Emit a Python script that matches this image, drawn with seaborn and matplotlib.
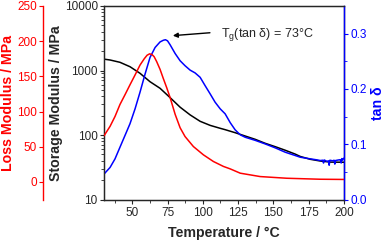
import numpy as np
import pandas as pd
import matplotlib
matplotlib.use("Agg")
import matplotlib.pyplot as plt
import seaborn as sns

# Storage modulus (MPa)
temp_storage = [30, 34.3, 41.3, 48.4, 55.5, 62.6, 69.7, 76.8, 83.9, 91, 98.1, 105.2, 112.3, 115.8,
                119.4, 122.9, 130, 137.1, 144.2, 151.3, 158.4, 165.5, 169, 176.1, 183.2, 190.3, 200]
storage = [1500, 1455, 1340, 1145, 905, 670, 530, 380, 270, 205, 163, 141, 127, 121,
           114.5, 108.6, 96.4, 85.7, 74.3, 65.9, 58, 50.5, 46.5, 42, 39.5, 38, 37.8]

# Loss modulus (MPa)
temp_loss = [30, 34.3, 37.8, 41.3, 44.9, 48.4, 52, 55.5, 58.5, 60.5, 62.3, 64, 65.5, 67.3, 69.7, 72,
             74.4, 76.8, 80.4, 83.9, 87.4, 93.3, 100.4, 107.5, 114.6, 119.4, 126.5, 140.6, 159.5, 183, 200]
loss = [65.5, 79, 93, 110, 124, 138, 152, 166, 175, 180, 182, 181, 178, 171, 160, 147,
        134, 120, 96, 77, 64.5, 50.3, 38.5, 29, 22, 18.5, 12.4, 7.6, 5.2, 3.8, 3.5]

# tan delta
temp_tan = [30, 34.3, 37.8, 41.3, 44.9, 48.4, 52, 55.5, 59.1, 62.6, 66.2, 69.7, 72, 73.5, 75, 76.8,
            80.4, 83.9, 87.4, 91, 94.5, 98.1, 101.6, 105.2, 108.7, 112.3, 115.8, 119.4, 122.9,
            126.5, 130, 137.1, 144.2, 151.3, 158.4, 165.5, 169, 176.1, 180, 183.2, 185, 185.5, 186,
            187.9, 189, 189.5, 190, 192, 193, 193.5, 194, 196, 197.4, 198, 198.5, 199, 200]
tan_delta = [0.046, 0.058, 0.0735, 0.0945, 0.116, 0.137, 0.164, 0.194, 0.227, 0.257, 0.275, 0.285, 0.288,
             0.289, 0.287, 0.28, 0.264, 0.251, 0.242, 0.234, 0.229, 0.221, 0.206, 0.191, 0.176, 0.164,
             0.155, 0.139, 0.126, 0.117, 0.1126, 0.107, 0.1005, 0.0934, 0.0855, 0.0795, 0.0765,
             0.0735, 0.072, 0.0705, 0.071, 0.066, 0.0715, 0.069, 0.07, 0.062, 0.071, 0.07, 0.071,
             0.064, 0.0705, 0.0715, 0.072, 0.066, 0.074, 0.0715, 0.075]

x_ticks = [50, 75, 100, 125, 150, 175, 200]
loss_ticks = [0, 50, 100, 150, 200, 250]
tan_ticks = [0.0, 0.1, 0.2, 0.3]

sns.set_style("ticks")
plt.rcParams['font.family'] = ['Liberation Sans', 'DejaVu Sans']

fig = plt.figure(figsize=(3.84, 2.42), dpi=100)
W, H = 384, 242
ax = fig.add_axes([104 / W, (H - 199.5) / H, 240 / W, 193.5 / H])
ax2 = ax.twinx()
ax3 = ax.twinx()

df_s = pd.DataFrame({"T": temp_storage, "E": storage})
df_l = pd.DataFrame({"T": temp_loss, "L": loss})
df_t = pd.DataFrame({"T": temp_tan, "tan": tan_delta})

sns.lineplot(data=df_l, x="T", y="L", ax=ax3, color="red", lw=1.1)
sns.lineplot(data=df_s, x="T", y="E", ax=ax, color="black", lw=1.1)
sns.lineplot(data=df_t, x="T", y="tan", ax=ax2, color="blue", lw=1.1)

fs = 8.5
lfs = 10.2
# main axis
ax.set_yscale("log")
ax.set_ylim(10, 10000)
ax.set_xlim(30, 200)
ax.set_xticks(x_ticks)
ax.set_xticks(np.arange(37.5, 200, 25), minor=True)
ax.set_yticks([10, 100, 1000, 10000])
ax.set_yticklabels(["10", "100", "1000", "10000"])
ax.set_xlabel("Temperature / °C", fontsize=lfs, fontweight="bold", labelpad=5)
ax.set_ylabel("Storage Modulus / MPa", fontsize=lfs, fontweight="bold", labelpad=1)
ax.tick_params(axis="both", which="major", labelsize=fs, length=3, width=0.8, pad=1.5)
ax.tick_params(axis="x", which="major", pad=2.5)
ax.tick_params(axis="both", which="minor", length=2, width=0.6)
for s in ax.spines.values():
    s.set_linewidth(1.0)

# tan delta axis
ax2.set_ylim(0, 0.35)
ax2.set_yticks(tan_ticks)
ax2.set_yticklabels([f"{v:.1f}" for v in tan_ticks])
ax2.set_yticks([0.05, 0.15, 0.25], minor=True)
ax2.set_ylabel("tan δ", color="blue", fontsize=lfs, fontweight="bold", labelpad=3)
ax2.tick_params(axis="y", which="major", colors="blue", labelsize=fs, length=3, width=0.8, pad=1.5)
ax2.tick_params(axis="y", which="minor", colors="blue", length=2, width=0.6)
ax2.spines["right"].set_color("blue")
ax2.spines["right"].set_linewidth(1.0)
ax2.set_xlabel("")

# loss axis
ax3.set_ylim(-25, 250)
ax3.spines["left"].set_position(("axes", (43 - 104) / 240))
ax3.spines["left"].set_visible(True)
ax3.spines["right"].set_visible(False)
ax3.spines["top"].set_visible(False)
ax3.spines["bottom"].set_visible(False)
ax3.yaxis.set_label_position("left")
ax3.yaxis.set_ticks_position("left")
ax3.set_yticks(loss_ticks)
ax3.set_ylabel("Loss Modulus / MPa", color="red", fontsize=lfs, fontweight="bold", labelpad=1)
ax3.tick_params(axis="y", colors="red", labelsize=fs, length=3, width=0.8, pad=1.5)
ax3.spines["left"].set_color("red")
ax3.spines["left"].set_linewidth(1.0)
ax3.set_xlabel("")

# annotation
ax2.annotate("", xy=(76.8, 0.296), xytext=(107, 0.302),
             arrowprops=dict(arrowstyle="-|>", color="black", lw=1.0, mutation_scale=7))
ax2.text(113, 0.299, r"T$_\mathregular{g}$(tan δ) = 73°C", fontsize=9, va="center", ha="left")

fig.savefig("out.png", dpi=100)
